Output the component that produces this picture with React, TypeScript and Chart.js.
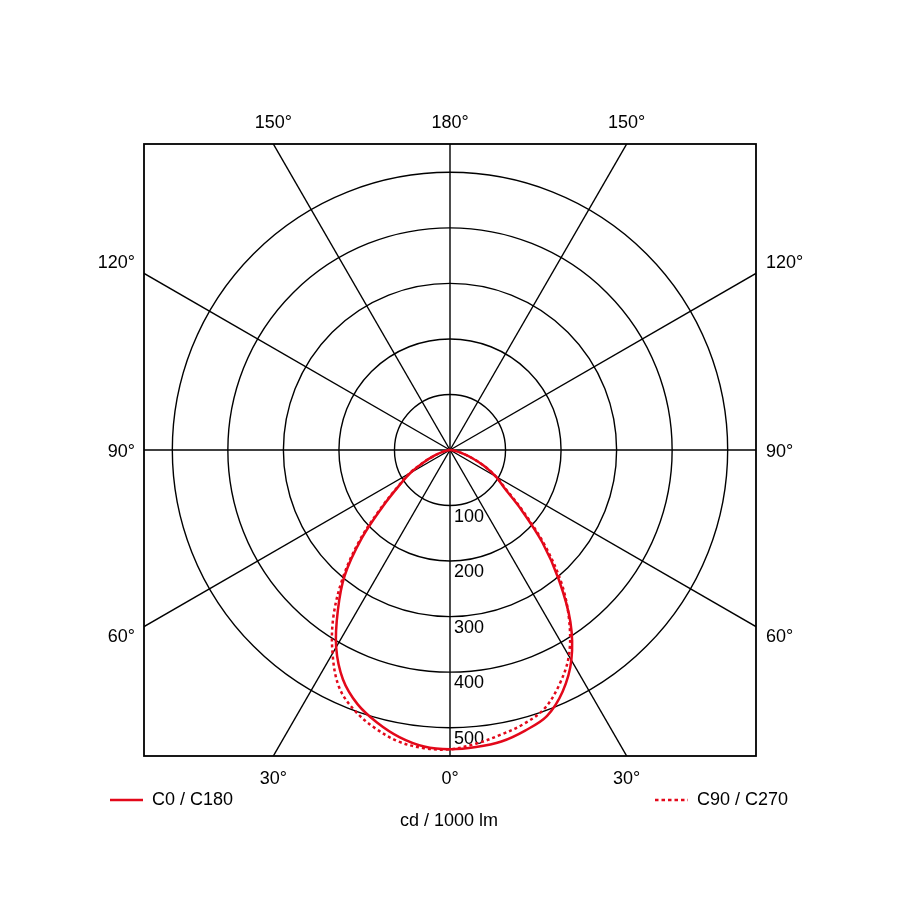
import { useEffect, useRef } from 'react';
import { Chart, registerables } from 'chart.js';

Chart.register(...registerables);

// gamma angles (deg from nadir) and intensities in cd / 1000 lm
const GAMMA = [0, 5, 10, 15, 20, 25, 30, 35, 40, 45, 50, 55, 60, 65, 70, 75, 80, 85, 90];
const C0 = [539, 537, 533, 523, 510, 480, 437, 378, 305, 235, 168, 120, 95, 68, 42, 22, 10, 4, 0];
const C180 = [539, 536, 525, 508, 487, 456, 410, 352, 295, 225, 158, 112, 82, 52, 30, 15, 6, 2, 0];
const C90 = [539, 531, 521, 511, 496, 466, 428, 374, 312, 240, 172, 123, 95, 68, 42, 22, 10, 4, 0];
const C270 = [539, 539, 533, 519, 500, 472, 423, 366, 300, 230, 162, 114, 84, 53, 30, 15, 6, 2, 0];

const RINGS = [100, 200, 300, 400, 500];
const SPOKES = [0, 30, 60, 90, 120, 150, 180, 210, 240, 270, 300, 330];
const ANGLE_LABELS = [0, 30, 60, 90, 120, 150, 180];
const MAX_CD = 551;

const RED = '#e3081a';
const FONT = '18px "Liberation Sans", Arial, sans-serif';

function toPoints(left: number[], right: number[]) {
  const pts: { x: number; y: number }[] = [];
  for (let i = GAMMA.length - 1; i >= 0; i--) {
    const g = (GAMMA[i] * Math.PI) / 180;
    pts.push({ x: -left[i] * Math.sin(g), y: -left[i] * Math.cos(g) });
  }
  for (let i = 1; i < GAMMA.length; i++) {
    const g = (GAMMA[i] * Math.PI) / 180;
    pts.push({ x: right[i] * Math.sin(g), y: -right[i] * Math.cos(g) });
  }
  return pts;
}

const polarGrid = {
  id: 'polarGrid',
  beforeDatasetsDraw(chart: Chart) {
    const { ctx, chartArea: a } = chart;
    const xs = chart.scales.x;
    const ys = chart.scales.y;
    const cx = xs.getPixelForValue(0);
    const cy = ys.getPixelForValue(0);

    ctx.save();
    ctx.beginPath();
    ctx.rect(a.left, a.top, a.width, a.height);
    ctx.clip();
    ctx.strokeStyle = '#000';
    ctx.lineWidth = 1.4;

    RINGS.forEach((r) => {
      const rp = xs.getPixelForValue(r) - cx;
      ctx.beginPath();
      ctx.arc(cx, cy, rp, 0, Math.PI * 2);
      ctx.stroke();
    });

    SPOKES.forEach((deg) => {
      const g = (deg * Math.PI) / 180;
      ctx.beginPath();
      ctx.moveTo(cx, cy);
      ctx.lineTo(xs.getPixelForValue(3000 * Math.sin(g)), ys.getPixelForValue(-3000 * Math.cos(g)));
      ctx.stroke();
    });
    ctx.restore();

    // ring values along the nadir axis
    ctx.save();
    ctx.fillStyle = '#000';
    ctx.font = FONT;
    ctx.textAlign = 'left';
    ctx.textBaseline = 'middle';
    RINGS.forEach((r) => {
      ctx.fillText(String(r), cx + 4, ys.getPixelForValue(-r) + 11);
    });
    ctx.restore();
  },
  afterDatasetsDraw(chart: Chart) {
    const { ctx, chartArea: a } = chart;
    const xs = chart.scales.x;
    const ys = chart.scales.y;
    const cx = xs.getPixelForValue(0);
    const cy = ys.getPixelForValue(0);

    ctx.save();
    ctx.strokeStyle = '#000';
    ctx.lineWidth = 1.8;
    ctx.strokeRect(a.left, a.top, a.width, a.height);

    ctx.fillStyle = '#000';
    ctx.font = FONT;
    ctx.textBaseline = 'middle';

    const half = a.width / 2;
    ANGLE_LABELS.forEach((deg) => {
      const g = (deg * Math.PI) / 180;
      const dx = Math.sin(g);
      const dy = Math.cos(g);
      const text = deg + '°';
      [-1, 1].forEach((side) => {
        if (side === -1 && (deg === 0 || deg === 180)) return;
        if (Math.abs(dy) >= Math.abs(dx) - 1e-9 && deg !== 90) {
          const t = half / Math.abs(dy);
          const px = cx + side * dx * t;
          ctx.textAlign = 'center';
          if (dy > 0) ctx.fillText(text, px, a.bottom + 23);
          else ctx.fillText(text, px, a.top - 21);
        } else {
          const t = half / Math.abs(dx);
          const py = cy + dy * t;
          const off = py < cy - 1 ? -10 : py > cy + 1 ? 10 : 2;
          if (side === -1) {
            ctx.textAlign = 'right';
            ctx.fillText(text, a.left - 9, py + off);
          } else {
            ctx.textAlign = 'left';
            ctx.fillText(text, a.right + 10, py + off);
          }
        }
      });
    });

    // legend
    ctx.strokeStyle = RED;
    ctx.lineWidth = 2.5;
    ctx.beginPath();
    ctx.moveTo(110, 800);
    ctx.lineTo(143, 800);
    ctx.stroke();
    ctx.setLineDash([3.5, 3]);
    ctx.beginPath();
    ctx.moveTo(655, 800);
    ctx.lineTo(688, 800);
    ctx.stroke();
    ctx.setLineDash([]);

    ctx.textAlign = 'left';
    ctx.fillText('C0 / C180', 152, 800);
    ctx.fillText('C90 / C270', 697, 800);
    ctx.textAlign = 'center';
    ctx.fillText('cd / 1000 lm', 449, 821);
    ctx.restore();
  },
};

export default function App() {
  const chartRef = useRef<HTMLCanvasElement>(null);
  const chartInstance = useRef<Chart | null>(null);

  useEffect(() => {
    document.body.style.margin = '0';
    if (!chartRef.current) return;
    if (chartInstance.current) chartInstance.current.destroy();

    chartInstance.current = new Chart(chartRef.current, {
      type: 'scatter',
      data: {
        datasets: [
          {
            label: 'C90 / C270',
            data: toPoints(C270, C90),
            showLine: true,
            borderColor: RED,
            borderWidth: 2.5,
            borderDash: [3, 3],
            pointRadius: 0,
            tension: 0.35,
            fill: false,
          },
          {
            label: 'C0 / C180',
            data: toPoints(C180, C0),
            showLine: true,
            borderColor: RED,
            borderWidth: 2.5,
            pointRadius: 0,
            tension: 0.35,
            fill: false,
          },
        ],
      },
      options: {
        animation: false,
        responsive: true,
        maintainAspectRatio: false,
        layout: { padding: { left: 144, right: 144, top: 144, bottom: 144 } },
        scales: {
          x: { type: 'linear', min: -MAX_CD, max: MAX_CD, display: false },
          y: { type: 'linear', min: -MAX_CD, max: MAX_CD, display: false },
        },
        plugins: {
          legend: { display: false },
          tooltip: { enabled: false },
        },
      },
      plugins: [polarGrid],
    });

    return () => {
      if (chartInstance.current) {
        chartInstance.current.destroy();
        chartInstance.current = null;
      }
    };
  }, []);

  return (
    <div style={{ width: 900, height: 900, background: '#fff' }}>
      <canvas ref={chartRef} />
    </div>
  );
}
